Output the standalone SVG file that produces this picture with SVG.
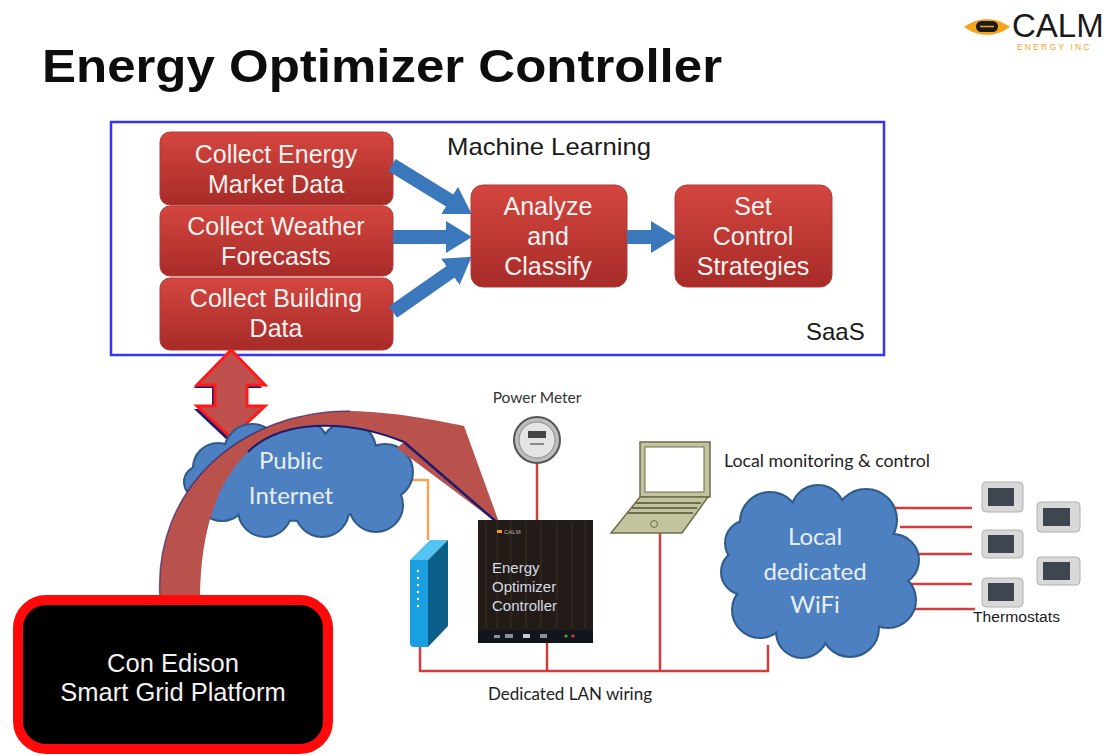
<svg xmlns="http://www.w3.org/2000/svg" width="1110" height="756" viewBox="0 0 1110 756">
  <defs>
    <linearGradient id="redBox" x1="0" y1="0" x2="0" y2="1">
      <stop offset="0" stop-color="#d4463f"/>
      <stop offset="1" stop-color="#a72b28"/>
    </linearGradient>
    <marker id="blueHead" markerUnits="userSpaceOnUse" markerWidth="26" markerHeight="32" viewBox="0 0 26 32" refX="12" refY="16" orient="auto">
      <path d="M0,0 L26,16 L0,32 Z" fill="#3a77bb"/>
    </marker>
    <style>
      .step rect { fill: url(#redBox); stroke: #b33a36; stroke-width: 1; }
      .step text { font-family: "Liberation Sans", Arial, sans-serif; font-size: 25px; fill: #f6f2f0; text-anchor: middle; }
      .flow { stroke: #3a77bb; stroke-width: 14; fill: none; marker-end: url(#blueHead); }
      .lbl { font-family: "Liberation Sans", Arial, sans-serif; fill: #1a1a1a; }
      .cal { font-family: Lato, "Open Sans", sans-serif; }
      .wire { stroke: #d23c3c; stroke-width: 2.5; fill: none; }
      .cloudEdge circle, .cloudEdge ellipse { fill: #3d6ea8; stroke: #2f5a8c; stroke-width: 4; }
      .cloudFill circle, .cloudFill ellipse { fill: #4d80c0; }
      .cloudText { font-family: Lato, "Open Sans", sans-serif; font-size: 24px; fill: #e8eef6; text-anchor: middle; }
      .tstat rect.body { fill: #d8d8d8; stroke: #b0b0b0; stroke-width: 1; }
      .tstat rect.screen { fill: #3f4650; }
    </style>
  </defs>

  <rect width="1110" height="756" fill="#ffffff"/>

  <!-- company mark -->
  <g id="logo">
    <path d="M964,27 Q987,11 1010,27 Q987,43 964,27 Z" fill="#f5a51d"/>
    <rect x="976" y="21" width="22" height="11" rx="5.5" fill="#1a1a1a"/>
    <line x1="980" y1="26.5" x2="994" y2="26.5" stroke="#f5a51d" stroke-width="1.5"/>
    <text x="1012" y="37" font-family="Liberation Sans, Arial, sans-serif" font-size="33" fill="#1a1a1a">CALM</text>
    <text x="1017" y="50" font-family="Liberation Sans, Arial, sans-serif" font-size="8.5" letter-spacing="2.2" fill="#f5a51d">ENERGY INC</text>
  </g>

  <text id="title" x="42" y="82" font-family="Liberation Sans, Arial, sans-serif" font-weight="bold" font-size="46" textLength="680" lengthAdjust="spacingAndGlyphs" fill="#0d0d0d">Energy Optimizer Controller</text>

  <!-- SaaS machine-learning frame -->
  <g id="saas">
    <rect x="111" y="122" width="773" height="233" fill="#ffffff" stroke="#3535f0" stroke-width="2.5"/>
    <text class="lbl" x="447" y="155" font-size="24" textLength="204" lengthAdjust="spacingAndGlyphs">Machine Learning</text>
    <text class="lbl" x="806" y="340" font-size="24">SaaS</text>
  </g>

  <g id="collect-market" class="step">
    <rect x="160" y="132" width="233" height="73" rx="10"/>
    <text x="276" y="163">Collect Energy</text>
    <text x="276" y="193">Market Data</text>
  </g>
  <g id="collect-weather" class="step">
    <rect x="160" y="206" width="233" height="70" rx="10"/>
    <text x="276" y="235">Collect Weather</text>
    <text x="276" y="265">Forecasts</text>
  </g>
  <g id="collect-building" class="step">
    <rect x="160" y="278" width="233" height="72" rx="10"/>
    <text x="276" y="307">Collect Building</text>
    <text x="276" y="337">Data</text>
  </g>
  <g id="analyze" class="step">
    <rect x="471" y="185" width="156" height="102" rx="12"/>
    <text x="548" y="215">Analyze</text>
    <text x="548" y="245">and</text>
    <text x="548" y="275">Classify</text>
  </g>
  <g id="strategies" class="step">
    <rect x="675" y="185" width="157" height="102" rx="12"/>
    <text x="753" y="215">Set</text>
    <text x="753" y="245">Control</text>
    <text x="753" y="275">Strategies</text>
  </g>

  <!-- flow arrows and wiring -->
  <g id="connectors">
    <line class="flow" x1="392" y1="165" x2="459.8" y2="206.7"/>
    <line class="flow" x1="393" y1="237" x2="458" y2="237"/>
    <line class="flow" x1="393" y1="312" x2="460.2" y2="264.9"/>
    <line class="flow" x1="627" y1="237" x2="663" y2="237"/>

    <!-- SaaS <-> internet double arrow -->
    <polygon points="228,353 194,388 212,388 212,409 194,409 228,441 262,409 244,409 244,388 262,388" fill="#1c1c6e"/>
    <polygon points="231,350 197,385 215,385 215,406 197,406 231,438 265,406 247,406 247,385 265,385" fill="#c0504d" stroke="#ff1a1a" stroke-width="3" stroke-linejoin="miter"/>

    <!-- orange uplink: internet to router -->
    <polyline points="410,480 428,480 428,540" fill="none" stroke="#f3a456" stroke-width="2.5"/>

    <!-- LAN wiring -->
    <polyline class="wire" points="420,645 420,671 768,671 768,645"/>
    <line class="wire" x1="547" y1="642" x2="547" y2="671"/>
    <line class="wire" x1="660" y1="533" x2="660" y2="671"/>
    <line class="wire" x1="537" y1="462" x2="537" y2="522"/>

    <!-- WiFi links to thermostats -->
    <line class="wire" x1="895" y1="508" x2="972" y2="508"/>
    <line class="wire" x1="900" y1="527" x2="972" y2="527"/>
    <line class="wire" x1="905" y1="554" x2="972" y2="554"/>
    <line class="wire" x1="905" y1="584" x2="972" y2="584"/>
    <line class="wire" x1="895" y1="609" x2="975" y2="609"/>
  </g>

  <!-- Public Internet cloud -->
  <g id="public-internet">
    <g class="cloudEdge">
      <circle cx="200" cy="482" r="15"/>
      <circle cx="218" cy="468" r="24"/>
      <circle cx="252" cy="452" r="27"/>
      <circle cx="300" cy="448" r="28"/>
      <circle cx="348" cy="450" r="27"/>
      <circle cx="385" cy="472" r="27"/>
      <circle cx="376" cy="505" r="26"/>
      <circle cx="322" cy="510" r="26"/>
      <circle cx="265" cy="510" r="26"/>
      <circle cx="222" cy="496" r="24"/>
      <ellipse cx="300" cy="480" rx="90" ry="40"/>
    </g>
    <g class="cloudFill">
      <circle cx="200" cy="482" r="15"/>
      <circle cx="218" cy="468" r="24"/>
      <circle cx="252" cy="452" r="27"/>
      <circle cx="300" cy="448" r="28"/>
      <circle cx="348" cy="450" r="27"/>
      <circle cx="385" cy="472" r="27"/>
      <circle cx="376" cy="505" r="26"/>
      <circle cx="322" cy="510" r="26"/>
      <circle cx="265" cy="510" r="26"/>
      <circle cx="222" cy="496" r="24"/>
      <ellipse cx="300" cy="480" rx="90" ry="40"/>
    </g>
    <text class="cloudText" x="291" y="469">Public</text>
    <text class="cloudText" x="291" y="504">Internet</text>
  </g>

  <!-- utility signal arc from the grid platform to the controller -->
  <g id="grid-arc">
    <path d="M160,600 C152,485 245,410 350,411 C395,412 435,420 464,426 L500,525 L397,448 L404,442 C345,418 280,420 248,452 C218,480 200,530 200,600 Z" fill="#b9514d"/>
    <path d="M404,442 L500,525" stroke="#1c1c6e" stroke-width="2.5" fill="none"/>
    <path d="M404,442 C345,418 280,420 248,452" stroke="#1c1c6e" stroke-width="2" fill="none"/>
    <path d="M160,600 C152,485 245,410 350,411" stroke="#1c1c6e" stroke-width="1.5" fill="none" opacity="0.6"/>
  </g>

  <!-- router -->
  <g id="router">
    <polygon points="410,560 428,560 448,540 430,540" fill="#52c3f2"/>
    <polygon points="428,560 448,540 448,626 428,647" fill="#0c5f88"/>
    <path d="M410,560 H428 V647 H414 Q410,647 410,643 Z" fill="#1a9fe0"/>
    <g fill="#ffffff">
      <circle cx="418" cy="571" r="1.2"/>
      <circle cx="418" cy="578" r="1.2"/>
      <circle cx="418" cy="585" r="1.2"/>
      <circle cx="418" cy="592" r="1.2"/>
      <circle cx="418" cy="599" r="1.2"/>
      <circle cx="418" cy="606" r="1.2"/>
    </g>
  </g>

  <!-- power meter -->
  <g id="power-meter">
    <text class="cal" x="537" y="403" font-size="15.5" text-anchor="middle" fill="#333">Power Meter</text>
    <circle cx="537" cy="440" r="23" fill="#bdbdbd" stroke="#555" stroke-width="2"/>
    <circle cx="537" cy="440" r="18" fill="#e4e4e4" stroke="#8a8a8a" stroke-width="1"/>
    <rect x="528" y="431" width="18" height="7" fill="#444"/>
    <rect x="530" y="443" width="14" height="2" fill="#888"/>
  </g>

  <!-- controller -->
  <g id="controller">
    <rect x="478" y="520" width="115" height="123" fill="#231b17"/>
    <g stroke="#3a2e27" stroke-width="1">
      <line x1="486" y1="522" x2="486" y2="628"/>
      <line x1="497" y1="522" x2="497" y2="628"/>
      <line x1="511" y1="522" x2="511" y2="628"/>
      <line x1="526" y1="522" x2="526" y2="628"/>
      <line x1="541" y1="522" x2="541" y2="628"/>
      <line x1="557" y1="522" x2="557" y2="628"/>
      <line x1="572" y1="522" x2="572" y2="628"/>
      <line x1="585" y1="522" x2="585" y2="628"/>
    </g>
    <rect x="478" y="630" width="115" height="13" fill="#12161c"/>
    <g fill="#8a8f99">
      <rect x="494" y="635" width="6" height="3"/>
      <rect x="505" y="634" width="8" height="4"/>
      <rect x="523" y="634" width="7" height="4" fill="#c9c9d6"/>
      <rect x="540" y="634" width="7" height="4"/>
    </g>
    <circle cx="566" cy="636" r="1.5" fill="#3cbf4a"/>
    <circle cx="573" cy="636" r="1.5" fill="#e04040"/>
    <rect x="497" y="530" width="5" height="3" fill="#e8a326"/>
    <text x="504" y="534" font-family="Liberation Sans, Arial, sans-serif" font-size="6" fill="#b9b4aa">CALM</text>
    <g font-family="Liberation Sans, Arial, sans-serif" font-size="15" fill="#d6dbe6">
      <text x="492" y="573">Energy</text>
      <text x="492" y="592">Optimizer</text>
      <text x="492" y="611">Controller</text>
    </g>
  </g>

  <!-- laptop -->
  <g id="laptop">
    <rect x="640" y="442" width="70" height="55" fill="#c4c3a0" stroke="#6e6d4c" stroke-width="1.5"/>
    <rect x="645" y="447" width="59" height="45" fill="#ffffff" stroke="#6e6d4c" stroke-width="1"/>
    <polygon points="640,497 708,497 682,533 611,533" fill="#c4c3a0" stroke="#6e6d4c" stroke-width="1.5"/>
    <g stroke="#6e6d4c" stroke-width="2">
      <line x1="636" y1="503" x2="701" y2="503"/>
      <line x1="632" y1="508" x2="697" y2="508"/>
      <line x1="628" y1="513" x2="693" y2="513"/>
    </g>
    <circle cx="654" cy="524" r="3.5" fill="none" stroke="#6e6d4c" stroke-width="1"/>
  </g>
  <text id="local-monitoring-label" class="cal" x="724" y="467" font-size="17" textLength="206" lengthAdjust="spacingAndGlyphs" fill="#222">Local monitoring &amp; control</text>

  <!-- Local dedicated WiFi cloud -->
  <g id="local-wifi">
    <g class="cloudEdge">
      <circle cx="770" cy="522" r="29"/>
      <circle cx="818" cy="512" r="26"/>
      <circle cx="866" cy="520" r="30"/>
      <circle cx="893" cy="560" r="25"/>
      <circle cx="888" cy="600" r="27"/>
      <circle cx="850" cy="628" r="28"/>
      <circle cx="802" cy="632" r="25"/>
      <circle cx="760" cy="610" r="27"/>
      <circle cx="744" cy="572" r="22"/>
      <circle cx="748" cy="543" r="22"/>
      <ellipse cx="820" cy="572" rx="78" ry="62"/>
    </g>
    <g class="cloudFill">
      <circle cx="770" cy="522" r="29"/>
      <circle cx="818" cy="512" r="26"/>
      <circle cx="866" cy="520" r="30"/>
      <circle cx="893" cy="560" r="25"/>
      <circle cx="888" cy="600" r="27"/>
      <circle cx="850" cy="628" r="28"/>
      <circle cx="802" cy="632" r="25"/>
      <circle cx="760" cy="610" r="27"/>
      <circle cx="744" cy="572" r="22"/>
      <circle cx="748" cy="543" r="22"/>
      <ellipse cx="820" cy="572" rx="78" ry="62"/>
    </g>
    <text class="cloudText" x="815" y="545">Local</text>
    <text class="cloudText" x="815" y="580">dedicated</text>
    <text class="cloudText" x="815" y="613">WiFi</text>
  </g>

  <!-- thermostats -->
  <g id="thermostats" class="tstat">
    <rect class="body" x="982" y="482" width="41" height="30" rx="4"/>
    <rect class="screen" x="988" y="488" width="26" height="18"/>
    <rect class="body" x="1037" y="502" width="43" height="30" rx="4"/>
    <rect class="screen" x="1043" y="508" width="27" height="18"/>
    <rect class="body" x="982" y="530" width="41" height="28" rx="4"/>
    <rect class="screen" x="988" y="535" width="26" height="18"/>
    <rect class="body" x="1037" y="557" width="43" height="28" rx="4"/>
    <rect class="screen" x="1043" y="562" width="27" height="18"/>
    <rect class="body" x="982" y="578" width="41" height="29" rx="4"/>
    <rect class="screen" x="988" y="583" width="26" height="18"/>
    <text class="lbl" x="973" y="622" font-size="14" textLength="87" lengthAdjust="spacingAndGlyphs" fill="#333">Thermostats</text>
  </g>

  <text id="lan-label" class="cal" x="488" y="700" font-size="17" fill="#222">Dedicated LAN wiring</text>

  <!-- Con Edison platform -->
  <g id="con-edison">
    <rect x="18" y="600" width="310" height="149" rx="28" fill="#000000" stroke="#ff0a0a" stroke-width="10"/>
    <text x="173" y="672" font-family="Liberation Sans, Arial, sans-serif" font-size="25.5" fill="#f2f2f2" text-anchor="middle">Con Edison</text>
    <text x="173" y="701" font-family="Liberation Sans, Arial, sans-serif" font-size="25.5" fill="#f2f2f2" text-anchor="middle">Smart Grid Platform</text>
  </g>
</svg>
